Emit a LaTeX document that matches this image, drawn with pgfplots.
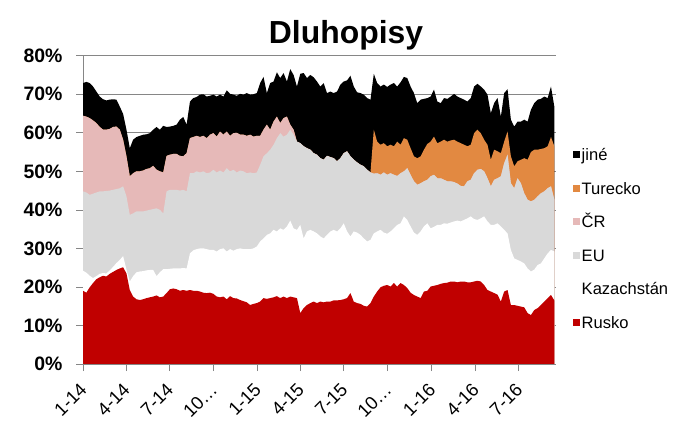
\documentclass[border=0pt]{standalone}
\usepackage{pgfplots}
\usepackage{pgfplotstable}
\pgfplotsset{compat=1.18}
\usepackage{fontspec}
\setmainfont{Liberation Sans}
\definecolor{rusko}{RGB}{192,0,0}
\definecolor{eu}{RGB}{217,217,217}
\definecolor{cr}{RGB}{230,185,184}
\definecolor{tur}{RGB}{226,137,65}
\definecolor{gridc}{RGB}{134,134,134}
% cumulative levels (percent): R=Rusko, K=+Kazachstan, E=+EU, C=+CR, T=+Turecko, J=+jine
\pgfplotstableread{
w R K E C T J
0 19.0 24.2 44.8 64.4 64.4 72.9
1 18.5 23.7 44.5 64.2 64.2 73.2
2 19.9 22.9 43.9 63.8 63.8 72.9
3 21.0 22.3 44.2 63.2 63.2 72.0
4 22.0 22.8 44.5 62.5 62.5 70.7
5 22.5 23.4 44.8 61.5 61.5 69.4
6 22.9 23.6 44.8 60.8 60.8 68.7
7 22.7 23.5 44.9 60.8 60.8 68.4
8 23.4 24.3 45.0 61.0 61.0 68.6
9 23.9 25.2 45.2 61.5 61.5 68.7
10 24.4 26.2 45.4 61.6 61.6 68.6
11 24.8 27.0 45.6 60.8 60.8 66.8
12 25.1 28.0 46.1 58.2 58.2 64.9
13 23.5 24.5 43.5 53.9 53.9 60.8
14 19.2 21.4 38.7 48.7 48.7 56.0
15 17.5 22.8 39.1 49.5 49.5 58.2
16 16.8 23.8 39.6 50.0 50.0 58.9
17 16.6 24.0 39.6 50.0 50.0 59.2
18 16.8 24.1 39.6 50.2 50.2 59.5
19 17.1 24.3 39.8 50.6 50.6 59.6
20 17.3 24.4 40.0 50.8 50.8 59.9
21 17.5 24.4 40.2 51.4 51.4 60.8
22 17.8 22.8 40.4 50.4 50.4 61.5
23 17.3 23.8 40.0 50.0 50.0 60.8
24 17.5 24.6 39.1 49.7 49.7 61.8
25 18.4 24.6 44.8 54.0 54.0 61.5
26 19.4 24.7 45.2 54.3 54.3 61.6
27 19.6 24.8 45.2 54.5 54.5 61.8
28 19.4 24.8 45.2 54.5 54.5 62.1
29 19.0 24.8 45.0 54.0 54.0 63.4
30 19.2 24.9 45.2 53.9 53.9 64.1
31 19.0 24.8 44.8 54.7 54.7 62.1
32 19.2 28.7 49.5 58.6 58.6 68.1
33 19.0 29.5 49.5 58.9 58.9 69.0
34 19.0 29.8 50.0 59.2 59.2 69.3
35 18.8 30.0 49.7 58.9 58.9 69.9
36 18.5 30.0 50.0 59.2 59.2 70.0
37 18.4 29.8 49.5 58.6 58.6 69.4
38 18.5 29.6 49.7 59.5 59.5 69.6
39 18.2 29.6 50.4 59.9 59.9 69.9
40 17.5 29.2 49.7 59.0 59.0 69.4
41 17.3 29.8 50.2 60.3 60.3 69.9
42 17.5 30.0 49.7 59.5 59.5 69.4
43 16.8 29.2 50.8 60.3 60.3 71.0
44 17.6 29.8 50.0 59.2 59.2 70.1
45 17.1 29.4 50.4 59.9 59.9 69.9
46 17.0 29.8 49.7 60.0 60.0 69.6
47 16.6 30.0 50.2 59.5 59.5 70.1
48 16.3 29.8 50.0 59.5 59.5 69.9
49 16.0 29.8 49.5 59.2 59.2 70.3
50 15.3 29.8 49.7 59.5 59.5 69.9
51 15.6 30.0 49.5 59.0 59.0 70.0
52 15.8 30.5 49.7 59.2 59.2 70.3
53 16.2 31.8 51.7 59.2 59.2 72.9
54 17.1 32.6 53.9 60.8 60.8 74.5
55 16.9 33.5 54.7 62.1 62.1 70.3
56 17.1 33.9 55.6 60.8 60.8 72.9
57 17.3 34.8 56.9 62.9 62.9 73.3
58 17.6 34.4 58.6 64.2 64.2 75.7
59 17.1 35.2 59.9 62.5 62.5 74.2
60 17.5 34.8 59.0 63.8 63.8 75.5
61 17.1 35.7 59.5 64.2 64.2 73.3
62 17.5 37.2 60.8 62.1 62.1 76.5
63 17.3 35.2 59.5 60.8 60.8 75.0
64 17.1 34.8 57.7 57.7 57.7 72.0
65 13.2 36.1 57.3 57.3 57.3 75.3
66 14.5 32.6 56.5 56.5 56.5 75.5
67 15.3 34.4 56.0 56.0 56.0 74.2
68 15.8 34.8 55.6 55.6 55.6 75.0
69 16.2 34.4 54.7 54.7 54.7 74.4
70 15.8 33.9 54.3 54.3 54.3 73.3
71 16.2 33.1 53.4 53.4 53.4 72.0
72 16.0 32.6 53.0 53.0 53.0 72.9
73 16.2 33.5 54.0 54.0 54.0 70.3
74 16.2 34.4 53.7 53.7 53.7 70.7
75 16.5 34.8 53.4 53.4 53.4 70.3
76 16.5 34.4 52.6 52.6 52.6 70.7
77 16.6 35.2 53.4 53.4 53.4 72.5
78 16.8 36.5 54.7 54.7 54.7 73.3
79 17.1 34.4 55.2 55.2 55.2 73.6
80 18.4 33.1 53.9 53.9 53.9 74.8
81 16.2 34.4 53.0 53.0 53.0 72.0
82 15.8 34.1 52.3 52.3 52.3 70.5
83 15.6 33.5 51.7 51.7 51.7 70.3
84 15.1 32.6 51.3 51.3 51.3 69.9
85 14.9 31.8 50.4 50.4 50.4 69.0
86 15.8 32.2 49.7 49.7 49.7 68.6
87 17.5 33.9 49.4 49.4 60.8 75.3
88 18.8 34.4 49.5 49.5 57.7 72.9
89 19.9 34.8 49.1 49.1 56.9 72.0
90 20.3 34.1 49.7 49.7 57.3 72.5
91 20.5 33.8 49.1 49.1 56.5 71.9
92 20.1 34.4 49.5 49.5 56.9 72.5
93 21.0 35.2 49.1 49.1 56.5 72.9
94 20.1 36.1 48.8 48.8 57.7 72.0
95 21.0 36.5 49.5 49.5 56.9 73.1
96 20.5 38.3 50.0 50.0 58.6 74.5
97 19.7 37.4 50.8 50.8 58.2 74.2
98 18.5 35.7 49.1 49.1 56.0 72.0
99 17.9 34.1 47.4 47.4 53.9 70.3
100 17.5 33.5 46.5 46.5 53.4 67.7
101 17.1 34.4 46.9 46.9 53.9 68.6
102 18.8 35.7 47.4 47.4 55.6 68.8
103 19.0 36.5 47.8 47.8 57.1 69.0
104 20.1 35.2 48.7 48.7 57.7 69.4
105 20.3 35.6 49.1 49.1 59.0 71.2
106 20.5 36.1 48.2 48.2 57.3 68.1
107 20.8 36.1 48.2 48.2 57.7 67.7
108 21.0 36.5 47.8 47.8 58.2 69.0
109 21.1 36.4 47.4 47.4 57.7 68.8
110 21.4 36.7 47.4 47.4 58.0 69.4
111 21.4 37.0 47.2 47.2 58.2 70.1
112 21.2 37.2 46.8 46.8 57.7 69.4
113 21.4 37.0 46.2 46.2 57.3 69.0
114 21.4 37.4 46.1 46.1 56.9 68.6
115 21.2 37.8 47.4 47.4 56.5 68.1
116 21.2 38.3 47.8 47.8 56.9 69.0
117 21.4 37.6 49.5 49.5 59.9 72.0
118 21.6 37.4 50.4 50.4 60.8 72.7
119 21.4 37.8 50.6 50.6 59.9 72.0
120 20.5 38.3 50.0 50.0 58.2 71.2
121 19.2 37.0 48.2 48.2 56.9 69.9
122 18.8 36.1 46.1 46.1 53.0 65.1
123 18.4 36.1 47.8 47.8 55.6 67.7
124 18.0 36.5 48.2 48.2 55.2 69.0
125 16.2 35.7 48.7 48.7 54.7 64.2
126 18.8 34.8 52.1 52.1 57.7 70.3
127 19.2 33.9 54.3 54.3 60.3 71.3
128 15.3 29.6 46.9 46.9 53.9 63.4
129 15.3 27.4 45.6 45.6 51.3 61.6
130 15.1 27.0 48.2 48.2 52.6 62.9
131 14.9 26.6 46.9 46.9 53.0 62.9
132 14.7 26.1 44.3 44.3 53.4 63.4
133 13.2 24.8 42.6 42.6 53.0 62.9
134 12.7 24.0 42.2 42.2 55.0 66.0
135 14.0 24.5 42.6 42.6 55.6 67.7
136 14.5 25.7 43.5 43.5 55.6 68.6
137 15.3 26.1 44.3 44.3 55.8 68.8
138 16.2 27.4 44.8 44.8 56.0 69.4
139 17.1 28.7 45.6 45.6 56.5 69.0
140 17.9 29.6 46.1 46.1 58.9 72.0
141 16.5 29.2 42.6 42.6 56.5 66.8
}\data
\begin{document}
\begin{tikzpicture}
\path[use as bounding box] (0,0) rectangle (691bp,432bp);
\node[anchor=base, font=\fontsize{32}{36}\selectfont\bfseries] at (346bp,388bp) {Dluhopisy};
\begin{axis}[
  scale only axis, width=473bp, height=308.3bp,
  at={(83bp,68bp)}, anchor=south west,
  xmin=0, xmax=141.5, ymin=0, ymax=80,
  axis lines*=left,
  axis line style={gridc},
  ymajorgrids, grid style={gridc, line width=0.6pt},
  tick align=outside, major tick length=7bp,
  tick style={gridc, line width=0.6pt},
  ytick={0,10,...,80},
  yticklabels={0\%,10\%,20\%,30\%,40\%,50\%,60\%,70\%,80\%},
  yticklabel style={xshift=-10bp, font=\fontsize{19.5}{22}\selectfont\bfseries},
  xtick={0,12.86,25.86,39,52.14,65,78,91.14,104.29,117.29,130.29},
  xticklabels={1-14,4-14,7-14,10…,1-15,4-15,7-15,10…,1-16,4-16,7-16},
  xticklabel style={xshift=3bp, yshift=-13bp, rotate=45, anchor=east, font=\fontsize{18.5}{21}\selectfont},
  legend image code/.code={\path[#1] (0bp,-2bp) rectangle (7bp,5bp);},
  legend cell align=left,
  legend style={at={(axis description cs:1.036,0.708)}, anchor=north west,
    draw=none, fill=none, inner sep=0pt, row sep=13.6bp,
    font=\fontsize{16.6}{19}\selectfont,
    nodes={inner sep=1.5bp, text height=13bp, text depth=4bp}},
]
\addplot[fill=black, draw=none] table[x=w, y=J]{\data} \closedcycle;
\addlegendentry{jiné}
\addplot[fill=tur, draw=none] table[x=w, y=T]{\data} \closedcycle;
\addlegendentry{Turecko}
\addplot[fill=cr, draw=none] table[x=w, y=C]{\data} \closedcycle;
\addlegendentry{ČR}
\addplot[fill=eu, draw=none] table[x=w, y=E]{\data} \closedcycle;
\addlegendentry{EU}
\addplot[fill=white, draw=none] table[x=w, y=K]{\data} \closedcycle;
\addlegendentry{Kazachstán}
\addplot[fill=rusko, draw=none] table[x=w, y=R]{\data} \closedcycle;
\addlegendentry{Rusko}
\end{axis}
\end{tikzpicture}
\end{document}
